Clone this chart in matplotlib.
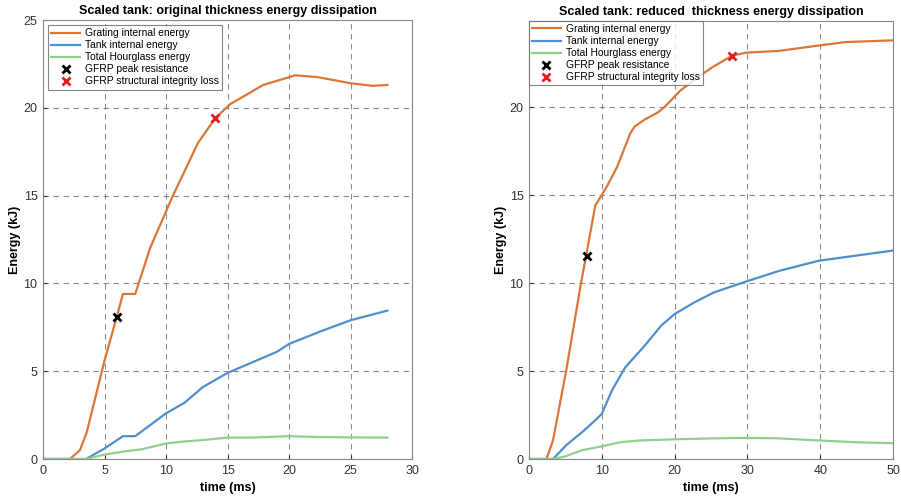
import matplotlib
matplotlib.use("Agg")
import matplotlib.pyplot as plt

plt.rcParams['font.family'] = ['Liberation Sans', 'DejaVu Sans']

# original thickness run
t_grating_a = [0, 2.2, 3.0, 3.55, 5.0, 6.0, 6.5, 7.5, 8.7, 10.5, 12.6, 14.0, 15.2, 17.9, 20.5, 22.3, 25.0, 26.8, 28.0]
e_grating_a = [0, 0, 0.5, 1.5, 5.6, 8.1, 9.4, 9.4, 12.0, 14.9, 18.0, 19.4, 20.2, 21.3, 21.85, 21.75, 21.4, 21.25, 21.3]
t_tank_a = [0, 3.5, 5.0, 6.5, 7.5, 10.0, 11.5, 13.0, 15.0, 19.0, 20.0, 22.5, 25.0, 28.0]
e_tank_a = [0, 0, 0.6, 1.3, 1.3, 2.6, 3.2, 4.1, 4.9, 6.1, 6.55, 7.25, 7.9, 8.45]
t_hg_a = [0, 3.5, 5.0, 6.5, 8.0, 10.0, 11.5, 13.0, 15.0, 17.0, 20.0, 22.5, 25.0, 28.0]
e_hg_a = [0, 0, 0.25, 0.42, 0.55, 0.88, 1.0, 1.08, 1.22, 1.22, 1.3, 1.25, 1.23, 1.22]
peak_a = (6.0, 8.1)
loss_a = (14.0, 19.4)

# reduced thickness run
t_grating_b = [0, 2.4, 3.3, 5.1, 7.1, 8.0, 9.1, 10.7, 12.1, 13.9, 14.5, 15.9, 17.7, 18.6, 20.8, 23.5, 25.3, 27.9,
               29.8, 34.3, 39.7, 43.4, 50.0]
e_grating_b = [0, 0, 1.06, 5.0, 9.9, 11.9, 14.4, 15.5, 16.6, 18.5, 18.9, 19.3, 19.7, 20.0, 20.95, 21.8, 22.3, 22.93,
               23.1, 23.2, 23.5, 23.7, 23.8]
t_tank_b = [0, 3.3, 5.1, 7.3, 9.1, 10.0, 11.4, 13.2, 15.9, 18.2, 20.0, 22.7, 25.4, 29.9, 34.4, 39.8, 44.7, 50.0]
e_tank_b = [0, 0, 0.78, 1.53, 2.2, 2.57, 3.9, 5.2, 6.45, 7.6, 8.24, 8.9, 9.47, 10.1, 10.7, 11.27, 11.55, 11.85]
t_hg_b = [0, 3.3, 5.0, 7.3, 10.0, 12.5, 15.0, 20.0, 25.0, 29.0, 34.0, 40.0, 45.0, 50.0]
e_hg_b = [0, 0, 0.15, 0.5, 0.72, 0.95, 1.05, 1.12, 1.17, 1.2, 1.18, 1.05, 0.95, 0.9]
peak_b = (7.9, 11.55)
loss_b = (27.9, 22.93)

ORANGE = '#d9773a'
BLUE = '#4f8fcc'
GREEN = '#8fd08f'


def draw(ax, tg, eg, tt, et, th, eh, peak, loss, title, xlim, xticks, ylim):
    ax.plot(tg, eg, color=ORANGE, lw=1.6, label='Grating internal energy')
    ax.plot(tt, et, color=BLUE, lw=1.6, label='Tank internal energy')
    ax.plot(th, eh, color=GREEN, lw=1.6, label='Total Hourglass energy')
    ax.plot(*peak, 'x', color='black', ms=6, mew=2, ls='none', label='GFRP peak resistance')
    ax.plot(*loss, 'x', color='#e41a1c', ms=6, mew=2, ls='none', label='GFRP structural integrity loss')
    ax.set_xlim(*xlim)
    ax.set_ylim(*ylim)
    ax.set_xticks(xticks)
    ax.set_yticks([0, 5, 10, 15, 20] + ([25] if ylim[1] >= 25 else []))
    ax.grid(True, ls=(0, (5, 4)), color='#666666', lw=0.8, alpha=0.75)
    ax.tick_params(labelsize=9, colors='#333333', length=3, direction='in', pad=4)
    for s in ax.spines.values():
        s.set_color('#888888')
        s.set_linewidth(0.8)
    ax.set_title(title, fontsize=9, fontweight='bold', pad=4)
    ax.set_xlabel('time (ms)', fontsize=9, fontweight='bold', labelpad=4)
    ax.set_ylabel('Energy (kJ)', fontsize=9, fontweight='bold', labelpad=2)
    leg = ax.legend(loc='upper left', fontsize=7.4, frameon=True, fancybox=False, borderpad=0.3,
                    labelspacing=0.2, handlelength=2.8, handletextpad=0.5, borderaxespad=0.5)
    leg.get_frame().set_edgecolor('#666666')
    leg.get_frame().set_linewidth(0.8)
    return leg


fig = plt.figure(figsize=(9.01, 5), dpi=100)
ax1 = fig.add_axes([43 / 901, 41 / 500, 369 / 901, 439 / 500])
ax2 = fig.add_axes([529 / 901, 41 / 500, 364 / 901, 438 / 500])

draw(ax1, t_grating_a, e_grating_a, t_tank_a, e_tank_a, t_hg_a, e_hg_a, peak_a, loss_a,
     'Scaled tank: original thickness energy dissipation', (0, 30), range(0, 31, 5), (0, 25))
leg2 = draw(ax2, t_grating_b, e_grating_b, t_tank_b, e_tank_b, t_hg_b, e_hg_b, peak_b, loss_b,
            'Scaled tank: reduced  thickness energy dissipation', (0, 50), range(0, 51, 10), (0, 24.9))
leg2.set_bbox_to_anchor((0, 1), transform=ax2.transAxes)
leg2.borderaxespad = 0

fig.savefig('out.png', dpi=100)
